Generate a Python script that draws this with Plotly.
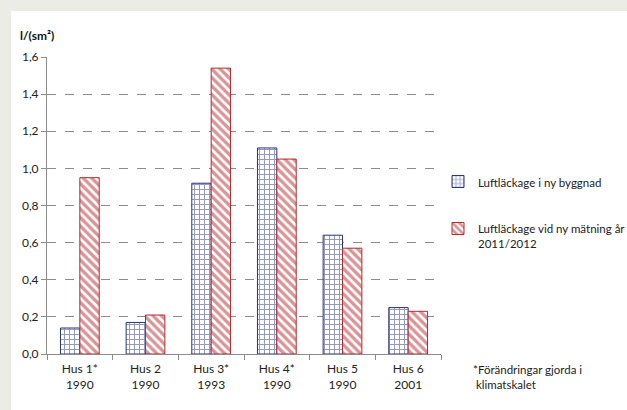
import plotly.graph_objects as go

categories = ["Hus 1*<br>1990", "Hus 2<br>1990", "Hus 3*<br>1993", "Hus 4*<br>1990", "Hus 5<br>1990", "Hus 6<br>2001"]
series_new = [0.14, 0.17, 0.92, 1.11, 0.64, 0.25]
series_remeasured = [0.95, 0.21, 1.54, 1.05, 0.57, 0.23]
name_new = "Luftläckage i ny byggnad"
name_remeasured = "Luftläckage vid ny mätning år<br>2011/2012"
y_ticks = [0.0, 0.2, 0.4, 0.6, 0.8, 1.0, 1.2, 1.4, 1.6]
y_ticklabels = ["0,0", "0,2", "0,4", "0,6", "0,8", "1,0", "1,2", "1,4", "1,6"]

FONT = "Lato, 'Open Sans', sans-serif"
NAVY = "#27307a"
RED = "#b3292d"

L, R, T, B = 47, 186, 57, 56
PW = 627 - L - R
PH = 410 - T - B

fig = go.Figure()
fig.add_trace(go.Bar(
    x=categories, y=series_new, name=name_new, legendgroup="a",
    marker=dict(color="white", line=dict(color=NAVY, width=1),
                pattern=dict(shape="+", fgcolor=NAVY, bgcolor="white", size=5, solidity=0.35)),
))
fig.add_trace(go.Bar(
    x=categories, y=series_remeasured, name=name_remeasured, legendgroup="b",
    marker=dict(color="white", line=dict(color=RED, width=1),
                pattern=dict(shape="\\", fgcolor=RED, bgcolor="white", size=6, solidity=0.55)),
))

fig.update_layout(
    width=627, height=410,
    margin=dict(l=L, r=R, t=T, b=B, autoexpand=False),
    paper_bgcolor="#ecece7",
    plot_bgcolor="white",
    barmode="group",
    bargap=0.41,
    bargroupgap=0,
    font=dict(family=FONT, size=12, color="#222222"),
    showlegend=True,
    legend=dict(x=(438 - L) / PW, y=1 - (167.5 - T) / PH, xanchor="left", yanchor="top",
                traceorder="grouped", tracegroupgap=28, valign="top",
                font=dict(family=FONT, size=11.5, color="#222222"),
                bgcolor="rgba(0,0,0,0)", itemwidth=30),
    shapes=[dict(type="rect", xref="paper", yref="paper",
                 x0=(11 - L) / PW, x1=1 + R / PW + 0.1, y0=-B / PH - 0.1, y1=1 + (T - 11) / PH,
                 fillcolor="white", line=dict(width=0), layer="below")],
    annotations=[
        dict(text="<b>l/(sm²)</b>", xref="paper", yref="paper", x=(18 - L) / PW, y=1 + (T - 35) / PH,
             xanchor="left", yanchor="middle", showarrow=False,
             font=dict(family=FONT, size=12, color="#111111")),
        dict(text="*Förändringar gjorda i<br> klimatskalet", xref="paper", yref="paper",
             x=(471 - L) / PW, y=-7 / PH, xanchor="left", yanchor="top", align="left",
             showarrow=False, font=dict(family=FONT, size=11.5, color="#222222")),
    ],
)
fig.update_xaxes(
    showline=True, linecolor="#8c8c8c", linewidth=1,
    ticks="outside", tickson="boundaries", ticklen=5, tickcolor="#8c8c8c",
    ticklabelstandoff=4,
    tickfont=dict(family=FONT, size=12, color="#222222"),
)
fig.update_yaxes(
    range=[0, 1.6], tickvals=y_ticks, ticktext=y_ticklabels,
    showline=True, linecolor="#8c8c8c", linewidth=1,
    ticks="outside", ticklen=5, tickcolor="#8c8c8c",
    showgrid=True, gridcolor="#8c8c8c", griddash="dash", gridwidth=1,
    zeroline=False,
    tickfont=dict(family=FONT, size=12, color="#222222"),
)

fig.write_html("out.html")
